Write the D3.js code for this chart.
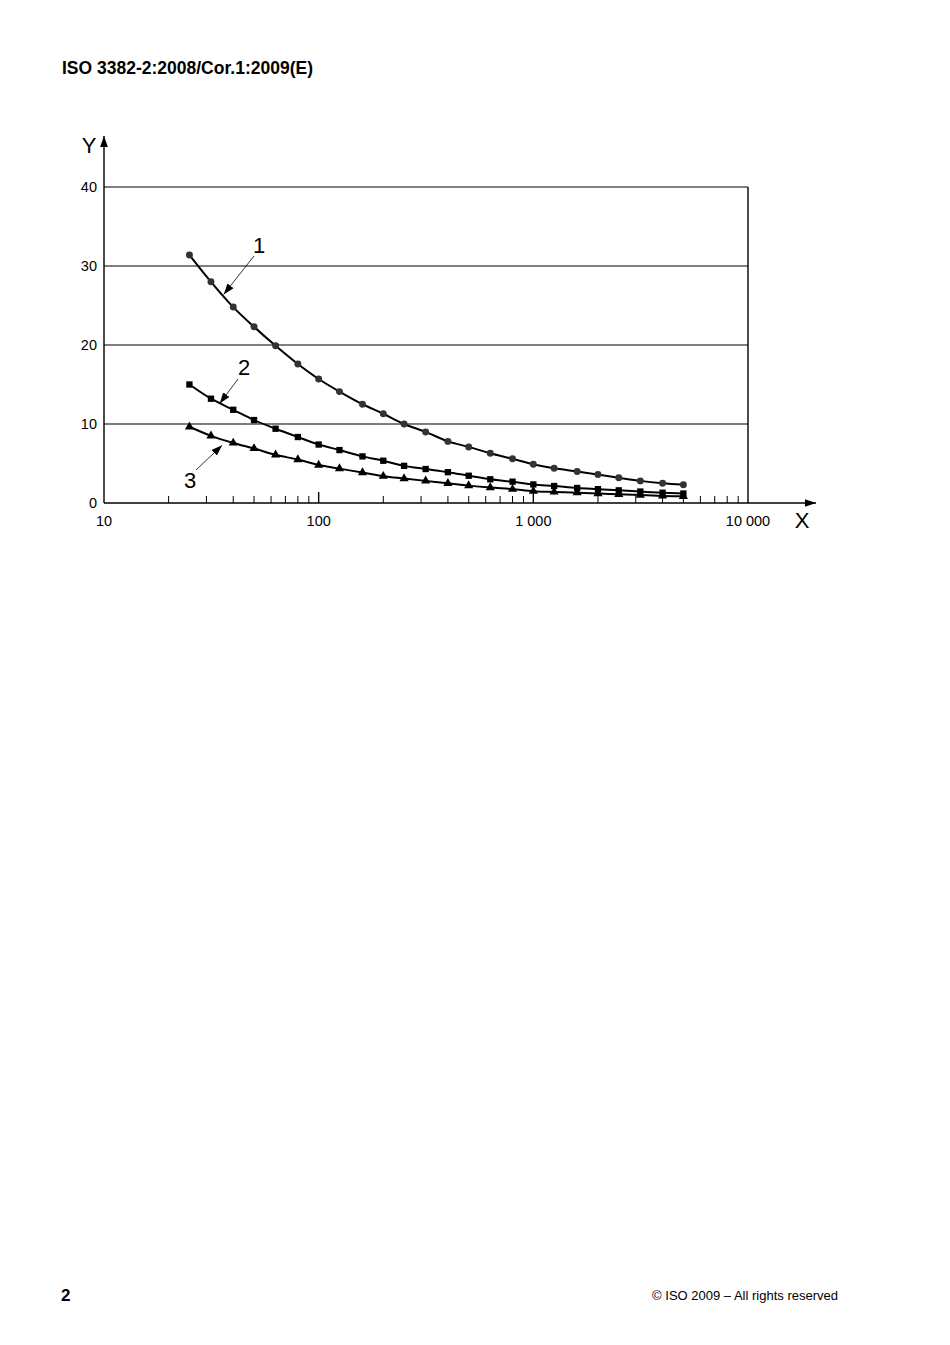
<!DOCTYPE html>
<html><head><meta charset="utf-8">
<script src="https://cdn.jsdelivr.net/npm/d3@7"></script>
<style>body{margin:0;background:#fff;} svg{display:block;}</style>
</head><body>
<script>
const freqs = [25,31.5,40,50,63,80,100,125,160,200,250,315,400,500,630,800,1000,1250,1600,2000,2500,3150,4000,5000];
const curve1 = [31.4,28.0,24.8,22.3,19.9,17.6,15.7,14.1,12.5,11.3,10.0,9.0,7.8,7.1,6.3,5.6,4.9,4.4,4.0,3.6,3.2,2.8,2.5,2.3];
const curve2 = [15.0,13.2,11.8,10.5,9.4,8.35,7.4,6.7,5.9,5.35,4.7,4.3,3.9,3.45,3.0,2.7,2.35,2.15,1.9,1.75,1.6,1.45,1.3,1.2];
const curve3 = [9.65,8.5,7.6,6.9,6.1,5.5,4.8,4.35,3.85,3.4,3.1,2.8,2.5,2.2,1.95,1.75,1.5,1.4,1.3,1.2,1.1,1.0,0.9,0.85];
const xTickValues = [10,100,1000,10000];
const xTickLabels = ["10","100","1 000","10 000"];
const yTickValues = [0,10,20,30,40];
const seriesNames = ["1","2","3"];

const W=950,H=1345;
const svg=d3.select("body").append("svg").attr("width",W).attr("height",H);
const font="Liberation Sans, Arial, sans-serif";

svg.append("text").attr("x",62).attr("y",74).attr("font-family",font).attr("font-weight","bold").attr("font-size",17.5).text("ISO 3382-2:2008/Cor.1:2009(E)");
svg.append("text").attr("x",61).attr("y",1301).attr("font-family",font).attr("font-weight","bold").attr("font-size",17).text("2");
svg.append("text").attr("x",838).attr("y",1300).attr("text-anchor","end").attr("font-family",font).attr("font-size",13).text("© ISO 2009 – All rights reserved");

const x=d3.scaleLog().domain([10,10000]).range([104,748]);
const y=d3.scaleLinear().domain([0,40]).range([503,187]);

const g=svg.append("g");
g.selectAll(".grid").data(yTickValues.filter(v=>v>0)).join("line")
 .attr("x1",x(10)).attr("x2",x(10000)).attr("y1",d=>y(d)).attr("y2",d=>y(d))
 .attr("stroke","#000").attr("stroke-width",1.2);
g.append("line").attr("x1",x(10000)).attr("x2",x(10000)).attr("y1",y(40)).attr("y2",y(0)).attr("stroke","#000").attr("stroke-width",1.4);

const defs=svg.append("defs");
defs.append("marker").attr("id","arr").attr("viewBox","0 0 10 10").attr("refX",10).attr("refY",5)
 .attr("markerWidth",11).attr("markerHeight",11).attr("markerUnits","userSpaceOnUse").attr("orient","auto")
 .append("path").attr("d","M0,1.5L10,5L0,8.5Z").attr("fill","#000");
g.append("line").attr("x1",x(10)).attr("x2",816).attr("y1",y(0)).attr("y2",y(0)).attr("stroke","#000").attr("stroke-width",1.4).attr("marker-end","url(#arr)");
g.append("line").attr("x1",x(10)).attr("x2",x(10)).attr("y1",y(0)).attr("y2",136).attr("stroke","#000").attr("stroke-width",1.4).attr("marker-end","url(#arr)");

const minor=[];
for(let d=10;d<10000;d*=10){for(let k=2;k<=9;k++)minor.push(d*k);}
g.selectAll(".mt").data(minor).join("line").attr("x1",d=>x(d)).attr("x2",d=>x(d))
 .attr("y1",y(0)).attr("y2",y(0)-7).attr("stroke","#000").attr("stroke-width",1);
g.selectAll(".Mt").data([100,1000]).join("line").attr("x1",d=>x(d)).attr("x2",d=>x(d))
 .attr("y1",y(0)).attr("y2",y(0)-11).attr("stroke","#000").attr("stroke-width",1.4);

g.selectAll(".xl").data(xTickValues).join("text").attr("x",d=>x(d)).attr("y",526)
 .attr("text-anchor","middle").attr("font-family",font).attr("font-size",14.5).text((d,i)=>xTickLabels[i]);
g.selectAll(".yl").data(yTickValues).join("text").attr("x",97).attr("y",d=>y(d)+5)
 .attr("text-anchor","end").attr("font-family",font).attr("font-size",14.5).text(d=>d);
g.append("text").attr("x",89).attr("y",153).attr("text-anchor","middle").attr("font-family",font).attr("font-size",22).text("Y");
g.append("text").attr("x",802).attr("y",528).attr("text-anchor","middle").attr("font-family",font).attr("font-size",22).text("X");

const line=d3.line().x(d=>x(d[0])).y(d=>y(d[1])).curve(d3.curveMonotoneX);
const series=[curve1,curve2,curve3].map(c=>freqs.map((f,i)=>[f,c[i]]));
series.forEach((s,si)=>{
  g.append("path").attr("d",line(s)).attr("fill","none").attr("stroke","#000").attr("stroke-width",2);
  const sym = si===0?d3.symbolCircle:(si===1?d3.symbolSquare:d3.symbolTriangle);
  const size = si===0?38:(si===1?40:36);
  g.selectAll(".m"+si).data(s).join("path")
   .attr("transform",d=>`translate(${x(d[0])},${y(d[1])})`)
   .attr("d",d3.symbol().type(sym).size(size))
   .attr("fill",si===0?"#333":"#000");
});

defs.append("marker").attr("id","arr2").attr("viewBox","0 0 10 10").attr("refX",10).attr("refY",5)
 .attr("markerWidth",11).attr("markerHeight",11).attr("markerUnits","userSpaceOnUse").attr("orient","auto")
 .append("path").attr("d","M0,1.5L10,5L0,8.5Z").attr("fill","#000");
const callouts=[
  {t:seriesNames[0],tx:259,ty:253,x1:254,y1:256,fx:36.1,fy:26.4},
  {t:seriesNames[1],tx:244,ty:375,x1:238,y1:379,fx:34.6,fy:12.6},
  {t:seriesNames[2],tx:190,ty:488,x1:196,y1:470,fx:35.5,fy:7.3}
];
callouts.forEach(c=>{
  g.append("line").attr("x1",c.x1).attr("y1",c.y1).attr("x2",x(c.fx)).attr("y2",y(c.fy))
   .attr("stroke","#000").attr("stroke-width",0.8).attr("marker-end","url(#arr2)");
  g.append("text").attr("x",c.tx).attr("y",c.ty).attr("text-anchor","middle").attr("font-family",font).attr("font-size",22).text(c.t);
});
</script>
</body></html>
